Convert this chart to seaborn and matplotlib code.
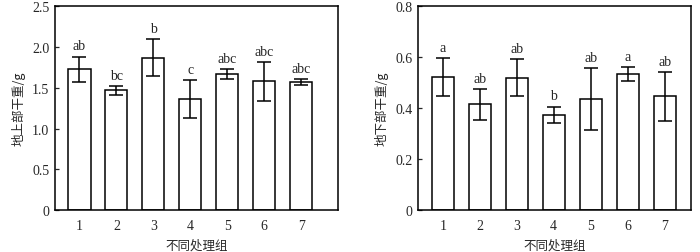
import matplotlib
matplotlib.use("Agg")
import matplotlib.pyplot as plt
import seaborn as sns
import pandas as pd

groups = ["1", "2", "3", "4", "5", "6", "7"]
above_mean = [1.73, 1.47, 1.87, 1.36, 1.67, 1.58, 1.57]
above_err = [0.155, 0.055, 0.23, 0.235, 0.06, 0.24, 0.04]
above_sig = ["ab", "bc", "b", "c", "abc", "abc", "abc"]
below_mean = [0.523, 0.415, 0.520, 0.375, 0.436, 0.534, 0.447]
below_err = [0.075, 0.062, 0.072, 0.032, 0.123, 0.027, 0.097]
below_sig = ["a", "ab", "ab", "b", "ab", "a", "ab"]

sns.set_theme(style="ticks")
plt.rcParams["font.family"] = ["Liberation Serif", "Noto Sans CJK SC"]
plt.rcParams["axes.unicode_minus"] = False

fig = plt.figure(figsize=(7, 2.53), dpi=100)
ax1 = fig.add_axes([0.0786, 0.165, 0.404, 0.806])
ax2 = fig.add_axes([0.5976, 0.165, 0.389, 0.806])

def draw(ax, means, errs, sigs, ylim, yticks, yticklabels, ylabel, xlim, off):
    df = pd.DataFrame({"g": groups, "v": means})
    sns.barplot(data=df, x="g", y="v", ax=ax, color="white", edgecolor="black",
                linewidth=1.1, width=0.6, errorbar=None, saturation=1)
    xs = list(range(len(groups)))
    ax.errorbar(xs, means, yerr=errs, fmt="none", ecolor="black", elinewidth=1.1,
                capsize=4.7, capthick=1.1)
    for x, m, e, s in zip(xs, means, errs, sigs):
        ax.text(x, m + e + off, s, ha="center", va="bottom", fontsize=10,
                family="Liberation Serif")
    ax.set_ylim(*ylim)
    ax.set_xlim(*xlim)
    ax.set_yticks(yticks)
    ax.set_yticklabels(yticklabels)
    ax.tick_params(axis="y", direction="in", length=3, width=0.9, labelsize=10, pad=4)
    ax.tick_params(axis="x", length=0, labelsize=10, pad=6)
    ax.set_xlabel("不同处理组", fontsize=9, family=["Noto Sans CJK SC"], labelpad=5)
    ax.set_ylabel(ylabel, fontsize=9, family=["Noto Sans CJK SC"], labelpad=5)
    for sp in ax.spines.values():
        sp.set_visible(True)
        sp.set_linewidth(1.1)
        sp.set_color("black")

draw(ax1, above_mean, above_err, above_sig, (0, 2.5),
     [0, 0.5, 1.0, 1.5, 2.0, 2.5], ["0", "0.5", "1.0", "1.5", "2.0", "2.5"],
     "地上部干重/g", (-0.66, 6.99), 0.05)
draw(ax2, below_mean, below_err, below_sig, (0, 0.8),
     [0, 0.2, 0.4, 0.6, 0.8], ["0", "0.2", "0.4", "0.6", "0.8"],
     "地下部干重/g", (-0.66, 6.7), 0.016)

fig.savefig("out.png", dpi=100)
